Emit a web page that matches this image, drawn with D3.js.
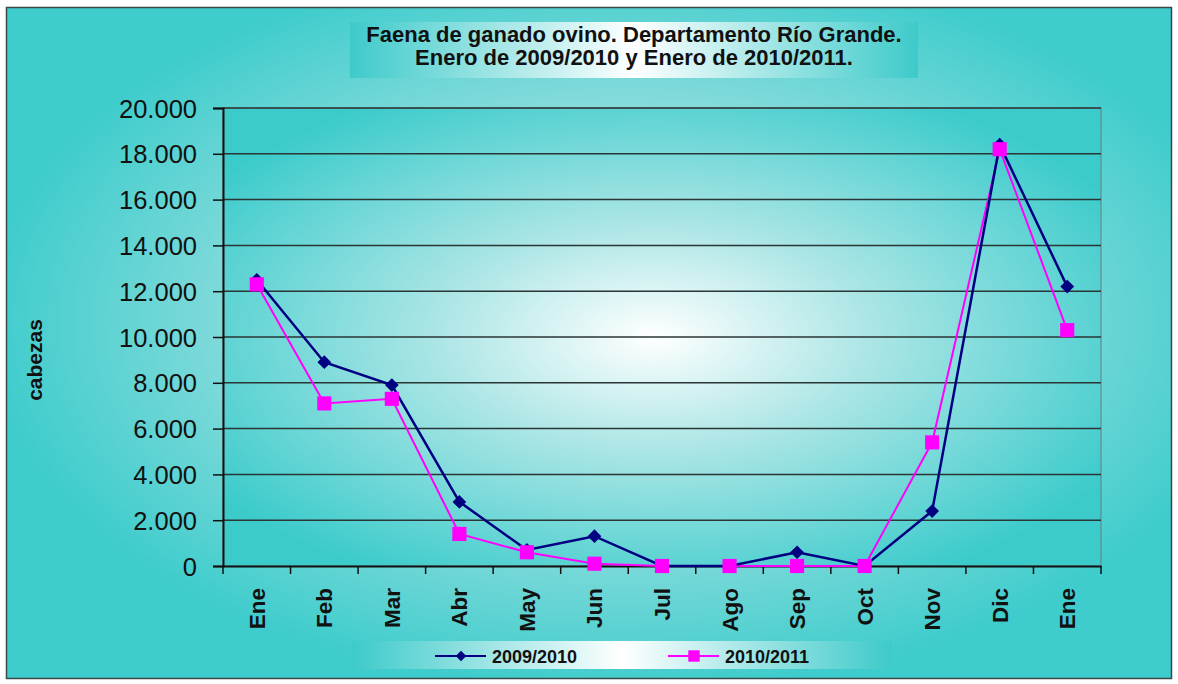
<!DOCTYPE html>
<html>
<head>
<meta charset="utf-8">
<script src="https://cdn.jsdelivr.net/npm/d3@7"></script>
<style>
  html, body { margin: 0; padding: 0; background: #fff; }
  svg { display: block; font-family: Arial, "Liberation Sans", sans-serif; }
</style>
</head>
<body>
<div id="chart"></div>
<script>
// data
const months = ["Ene", "Feb", "Mar", "Abr", "May", "Jun", "Jul", "Ago", "Sep", "Oct", "Nov", "Dic", "Ene"];
const serie2009 = [12500, 8900, 7900, 2800, 700, 1300, 0, 0, 600, 0, 2400, 18400, 12200];
const serie2010 = [12300, 7100, 7300, 1400, 600, 100, 0, 0, 0, 0, 5400, 18200, 10300];
const yTicks = [0, 2000, 4000, 6000, 8000, 10000, 12000, 14000, 16000, 18000, 20000];
const seriesNames = ["2009/2010", "2010/2011"];

let width = 1178, height = 684;
let margin = {top: 108, right: 77, bottom: 118, left: 223};

let svg = d3.select('#chart').append('svg')
    .attr('width', width)
    .attr('height', height);

let defs = svg.append('defs');
let bg = defs.append('radialGradient').attr('id', 'bg')
    .attr('cx', '0.53').attr('cy', '0.47').attr('r', '0.55');
bg.append('stop').attr('offset', '0%').attr('stop-color', '#eefafa');
bg.append('stop').attr('offset', '45%').attr('stop-color', '#9ee0e0');
bg.append('stop').attr('offset', '100%').attr('stop-color', '#3ecccc');

let pbg = defs.append('radialGradient').attr('id', 'pbg')
    .attr('cx', '0.49').attr('cy', '0.5').attr('r', '0.6');
pbg.append('stop').attr('offset', '0%').attr('stop-color', '#ffffff');
pbg.append('stop').attr('offset', '40%').attr('stop-color', '#aee6e6');
pbg.append('stop').attr('offset', '100%').attr('stop-color', '#3ccbcb');

let hbar = defs.append('linearGradient').attr('id', 'hbar');
hbar.append('stop').attr('offset', '0%').attr('stop-color', '#3ecaca');
hbar.append('stop').attr('offset', '50%').attr('stop-color', '#ffffff');
hbar.append('stop').attr('offset', '100%').attr('stop-color', '#3ecaca');

// chart background and border
svg.append('rect')
    .attr('x', 6.5).attr('y', 7.5)
    .attr('width', width - 13).attr('height', height - 13)
    .attr('fill', 'url(#bg)')
    .attr('stroke', '#3a4a4a').attr('stroke-width', 1.5);

let x = d3.scaleBand()
    .domain(d3.range(months.length))
    .range([margin.left, width - margin.right]);
let y = d3.scaleLinear()
    .domain([0, 20000])
    .range([height - margin.bottom, margin.top]);

// plot area
svg.append('rect')
    .attr('x', margin.left).attr('y', margin.top)
    .attr('width', x.range()[1] - margin.left)
    .attr('height', y(0) - margin.top)
    .attr('fill', 'url(#pbg)')
    .attr('stroke', '#6b7d7d').attr('stroke-width', 1);

// gridlines
svg.append('g')
    .selectAll('line')
    .data(yTicks.filter(d => d > 0))
    .enter().append('line')
    .attr('x1', margin.left).attr('x2', x.range()[1])
    .attr('y1', d => y(d)).attr('y2', d => y(d))
    .attr('stroke', '#2a3535').attr('stroke-width', 1.5);

// y axis
let fmt = d => d3.format(',')(d).replace(/,/g, '.');
let yAxis = svg.append('g')
    .attr('transform', `translate(${margin.left},0)`)
    .call(d3.axisLeft(y).tickValues(yTicks).tickFormat(fmt).tickSize(10).tickPadding(16));
yAxis.select('.domain').attr('stroke', '#111').attr('stroke-width', 2);
yAxis.selectAll('.tick line').attr('stroke', '#111').attr('stroke-width', 1.5);
yAxis.selectAll('text').attr('font-size', 25.5).attr('fill', '#111')
    .attr('dy', '0.36em')
    .attr('font-family', 'Arial, "Liberation Sans", sans-serif');

// x axis
let xAxis = svg.append('g')
    .attr('transform', `translate(0,${y(0)})`)
    .call(d3.axisBottom(x).tickValues([]).tickSize(0));
xAxis.select('.domain').attr('stroke', '#111').attr('stroke-width', 2);
svg.append('g').selectAll('line')
    .data(d3.range(months.length + 1))
    .enter().append('line')
    .attr('x1', d => margin.left + d * x.bandwidth())
    .attr('x2', d => margin.left + d * x.bandwidth())
    .attr('y1', y(0)).attr('y2', y(0) + 8)
    .attr('stroke', '#111').attr('stroke-width', 1.5);
svg.append('g').selectAll('text')
    .data(months)
    .enter().append('text')
    .attr('transform', (d, i) => `translate(${x(i) + x.bandwidth() / 2 + 8},${y(0) + 22}) rotate(-90)`)
    .attr('text-anchor', 'end')
    .attr('font-size', 22.5).attr('font-weight', 'bold').attr('fill', '#111')
    .text(d => d);

// y label
svg.append('text')
    .attr('transform', `translate(42,360) rotate(-90)`)
    .attr('text-anchor', 'middle')
    .attr('font-size', 21).attr('font-weight', 'bold').attr('fill', '#111')
    .text('cabezas');

// title
svg.append('rect')
    .attr('x', 350).attr('y', 22).attr('width', 568).attr('height', 56)
    .attr('fill', 'url(#hbar)');
let title = svg.append('text')
    .attr('text-anchor', 'middle')
    .attr('font-size', 22).attr('font-weight', 'bold').attr('fill', '#111');
title.append('tspan').attr('x', 634).attr('y', 42).text('Faena de ganado ovino. Departamento Río Grande.');
title.append('tspan').attr('x', 634).attr('y', 65).text('Enero de 2009/2010 y Enero de 2010/2011.');

// lines
let cx = i => x(i) + x.bandwidth() / 2;
let line = d3.line().x((d, i) => cx(i)).y(d => y(d));

svg.append('path').datum(serie2010)
    .attr('d', line).attr('fill', 'none')
    .attr('stroke', '#ff00ff').attr('stroke-width', 2);
svg.append('path').datum(serie2009)
    .attr('d', line).attr('fill', 'none')
    .attr('stroke', '#000080').attr('stroke-width', 2.5);

let diamond = d3.symbol().type(d3.symbolDiamond2).size(120);
let square = d3.symbol().type(d3.symbolSquare).size(200);

svg.append('g').selectAll('path')
    .data(serie2009)
    .enter().append('path')
    .attr('d', diamond)
    .attr('transform', (d, i) => `translate(${cx(i)},${y(d)})`)
    .attr('fill', '#000080');
svg.append('g').selectAll('path')
    .data(serie2010)
    .enter().append('path')
    .attr('d', square)
    .attr('transform', (d, i) => `translate(${cx(i)},${y(d)})`)
    .attr('fill', '#ff00ff');

// legend
svg.append('rect')
    .attr('x', 352).attr('y', 641).attr('width', 540).attr('height', 28)
    .attr('fill', 'url(#hbar)');
let legend = svg.append('g');
let lg = [
    {name: seriesNames[0], x: 435, color: '#000080', sym: d3.symbol().type(d3.symbolDiamond2).size(70)},
    {name: seriesNames[1], x: 668, color: '#ff00ff', sym: d3.symbol().type(d3.symbolSquare).size(130)}
];
let items = legend.selectAll('g').data(lg).enter().append('g')
    .attr('transform', d => `translate(${d.x},656)`);
items.append('line').attr('x1', 0).attr('x2', 51)
    .attr('stroke', d => d.color).attr('stroke-width', 2);
items.append('path').attr('d', d => d.sym())
    .attr('transform', 'translate(26,0)')
    .attr('fill', d => d.color);
items.append('text').attr('x', 57).attr('y', 7)
    .attr('font-size', 18).attr('font-weight', 'bold').attr('fill', '#111')
    .text(d => d.name);
</script>
</body>
</html>
